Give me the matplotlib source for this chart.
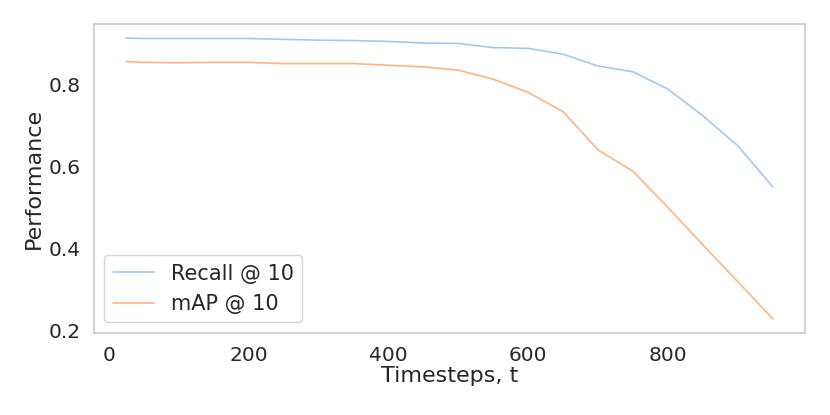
import numpy as np
import matplotlib
matplotlib.use("Agg")
import matplotlib.pyplot as plt
import seaborn as sns

timesteps = [25, 50, 100, 150, 200, 250, 300, 350, 400, 450,
             500, 550, 600, 650, 700, 750, 800, 850, 900, 950]
recall_at_10 = [0.912, 0.911, 0.911, 0.911, 0.911, 0.909, 0.907, 0.906, 0.904, 0.900,
                0.899, 0.889, 0.887, 0.873, 0.844, 0.830, 0.788, 0.723, 0.650, 0.550]
map_at_10 = [0.855, 0.853, 0.852, 0.853, 0.853, 0.850, 0.850, 0.850, 0.846, 0.842,
             0.834, 0.812, 0.780, 0.733, 0.640, 0.588, 0.500, 0.409, 0.319, 0.229]
series_labels = ["Recall @ 10", "mAP @ 10"]

sns.set_theme(style="white", palette="pastel")
plt.rcParams['font.family'] = ['DejaVu Sans']
colors = sns.color_palette("pastel")

fig, ax = plt.subplots(figsize=(8.3, 4.15), dpi=100)
fig.subplots_adjust(left=0.113, right=0.970, top=0.942, bottom=0.198)

ax.plot(timesteps, recall_at_10, color=colors[0], linewidth=1.2, label=series_labels[0])
ax.plot(timesteps, map_at_10, color=colors[1], linewidth=1.2, label=series_labels[1])

ax.set_xticks([0, 200, 400, 600, 800])
ax.set_yticks([0.2, 0.4, 0.6, 0.8])
ax.tick_params(labelsize=14.5, colors="#262626")
ax.set_xlabel("Timesteps, t", fontsize=16, labelpad=1)
ax.set_ylabel("Performance", fontsize=16, labelpad=3)
for s in ax.spines.values():
    s.set_color("#cccccc")

ax.legend(loc="lower left", fontsize=15)

fig.savefig("out.png", dpi=100)
